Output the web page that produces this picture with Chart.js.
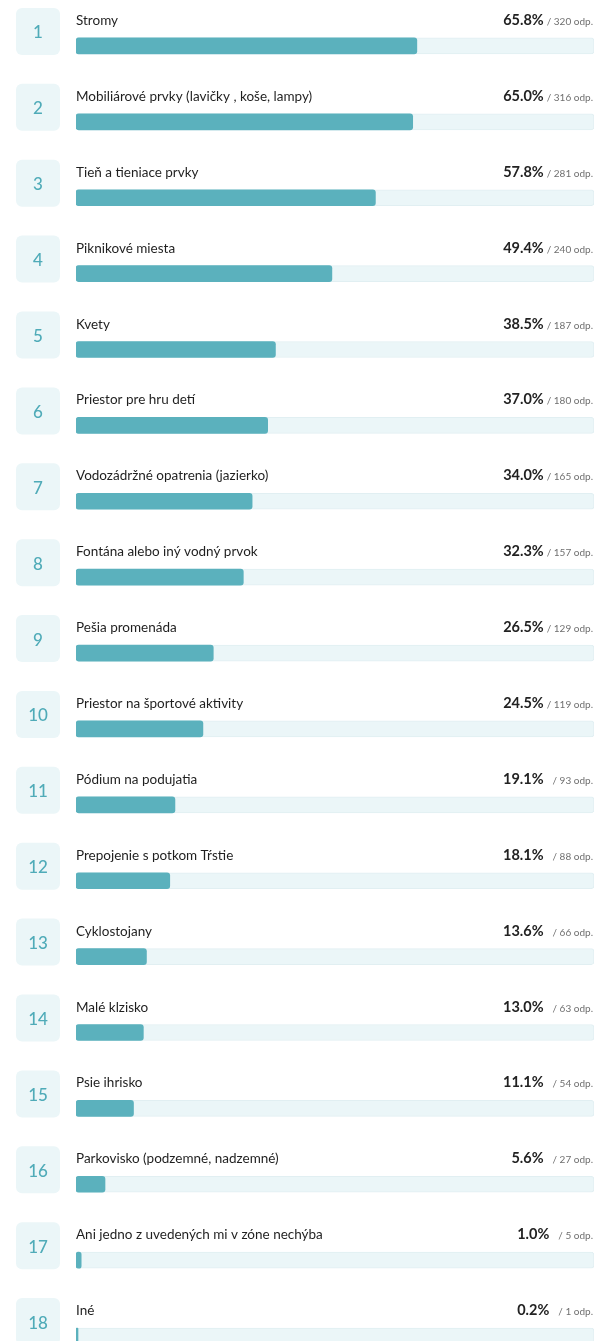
<!DOCTYPE html>
<html>
<head>
<meta charset="utf-8">
<script src="https://cdn.jsdelivr.net/npm/chart.js@4/dist/chart.umd.min.js"></script>
<style>
  html, body { margin: 0; padding: 0; background: #fff; overflow: hidden; }
  #wrap { position: relative; width: 595px; height: 1374px; }
</style>
</head>
<body>
<div id="wrap"><canvas id="chart"></canvas></div>
<script>
const labels = [
  'Stromy',
  'Mobiliárové prvky (lavičky , koše, lampy)',
  'Tieň a tieniace prvky',
  'Piknikové miesta',
  'Kvety',
  'Priestor pre hru detí',
  'Vodozádržné opatrenia (jazierko)',
  'Fontána alebo iný vodný prvok',
  'Pešia promenáda',
  'Priestor na športové aktivity',
  'Pódium na podujatia',
  'Prepojenie s potkom Tŕstie',
  'Cyklostojany',
  'Malé klzisko',
  'Psie ihrisko',
  'Parkovisko (podzemné, nadzemné)',
  'Ani jedno z uvedených mi v zóne nechýba',
  'Iné'
];
const percents = [65.8, 65.0, 57.8, 49.4, 38.5, 37.0, 34.0, 32.3, 26.5, 24.5, 19.1, 18.1, 13.6, 13.0, 11.1, 5.6, 1.0, 0.2];
const counts = [320, 316, 281, 240, 187, 180, 165, 157, 129, 119, 93, 88, 66, 63, 54, 27, 5, 1];
const track = labels.map(() => 100);

const FONT = 'Lato, "Open Sans", sans-serif';

// row decorations: number box, label, percent and count
const rowText = {
  id: 'rowText',
  afterDraw(chart) {
    const ctx = chart.ctx;
    const y = chart.scales.y;
    ctx.save();
    labels.forEach((lab, i) => {
      const cy = y.getPixelForValue(i);
      // number box
      ctx.fillStyle = '#ebf6f8';
      ctx.beginPath();
      ctx.roundRect(16, cy - 38, 44, 47, 6);
      ctx.fill();
      ctx.fillStyle = '#4fabb8';
      ctx.font = '500 17px ' + FONT;
      ctx.textAlign = 'center';
      ctx.textBaseline = 'middle';
      ctx.fillText(String(i + 1), 38, cy - 13);

      // label
      ctx.textBaseline = 'alphabetic';
      ctx.textAlign = 'left';
      ctx.fillStyle = '#1f1f1f';
      ctx.font = '13.5px ' + FONT;
      ctx.fillText(lab, 76, cy - 21);

      // count
      ctx.textAlign = 'right';
      ctx.fillStyle = '#6f6f6f';
      ctx.font = '10px ' + FONT;
      const cTxt = '/ ' + counts[i] + ' odp.';
      ctx.fillText(cTxt, 593, cy - 21);
      const cw = ctx.measureText(cTxt).width;
      // percent
      ctx.fillStyle = '#222';
      ctx.font = 'bold 14.5px ' + FONT;
      const gap = counts[i] >= 100 ? 3 : 9;
      ctx.fillText(percents[i].toFixed(1) + '%', 593 - cw - gap, cy - 21);
    });
    ctx.restore();
  }
};

new Chart(document.getElementById('chart'), {
  type: 'bar',
  data: {
    labels: labels,
    datasets: [
      {
        data: percents,
        backgroundColor: '#5bb1bd',
        borderRadius: 3,
        borderSkipped: false,
        barThickness: 16,
        minBarLength: 2,
        grouped: false,
        order: 0
      },
      {
        data: track,
        backgroundColor: '#ebf6f8',
        borderColor: '#e1eff2',
        borderWidth: 1,
        borderRadius: 3,
        borderSkipped: false,
        barThickness: 16,
        grouped: false,
        order: 1
      }
    ]
  },
  options: {
    indexAxis: 'y',
    responsive: true,
    maintainAspectRatio: false,
    animation: false,
    layout: { padding: { left: 76, right: 1, top: 8, bottom: 0 } },
    scales: {
      x: { display: false, min: 0, max: 100 },
      y: { display: false }
    },
    plugins: {
      legend: { display: false },
      tooltip: { enabled: false }
    }
  },
  plugins: [rowText]
});
</script>
</body>
</html>
